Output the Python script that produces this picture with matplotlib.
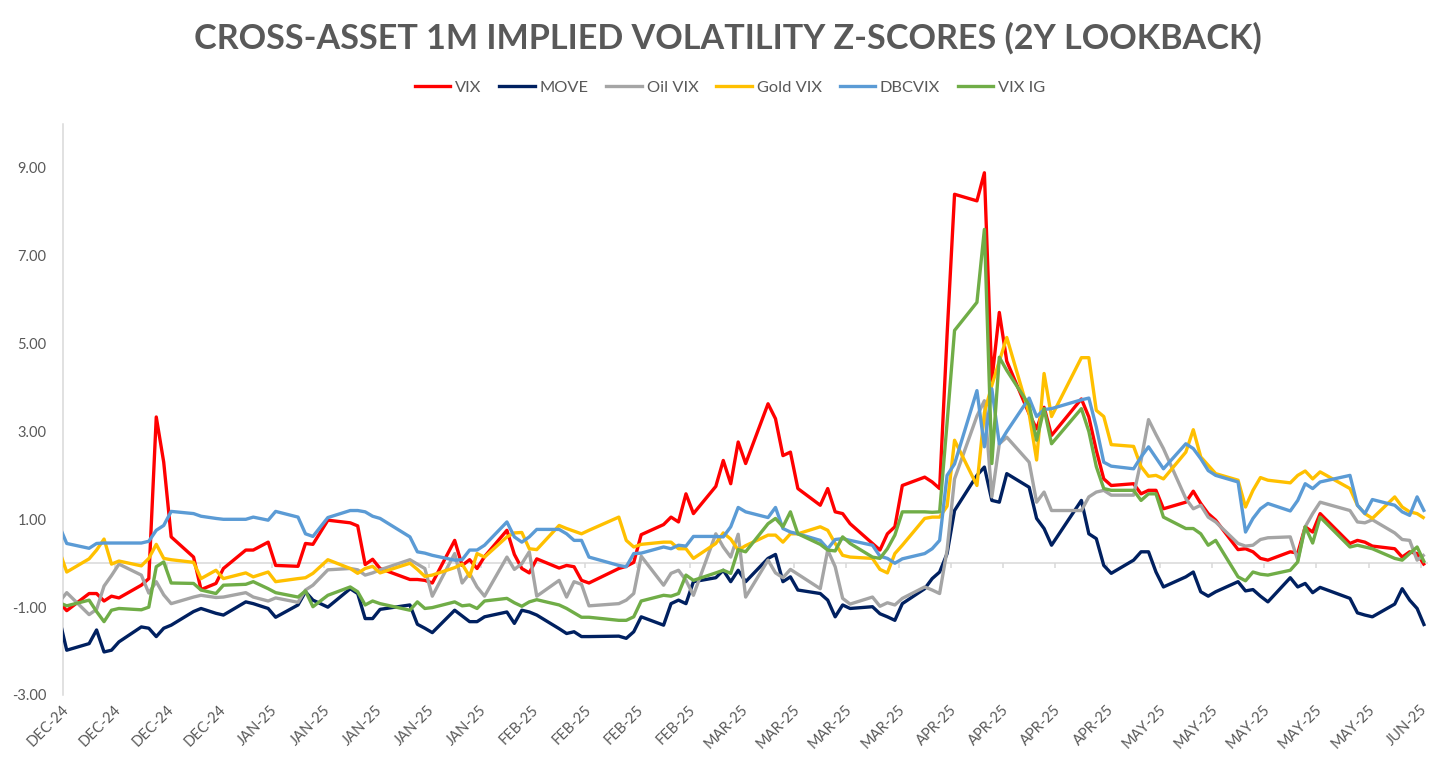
import numpy as np
import pandas as pd
import matplotlib
matplotlib.use("Agg")
import matplotlib.pyplot as plt
from matplotlib.lines import Line2D

# ---------------- data ----------------
holidays = ["2024-12-25", "2025-01-01", "2025-01-09", "2025-01-20",
            "2025-02-17", "2025-04-18", "2025-05-26"]
dates = pd.bdate_range("2024-12-05", "2025-06-06", freq="C", holidays=holidays)

vix = [-0.89,
       -1.08, -0.69, -0.69, -0.86, -0.75, -0.79, -0.50, -0.35, 3.33, 2.30,
       0.60, 0.14, -0.60, -0.46, -0.12, 0.30, 0.30, 0.48, -0.05, -0.07,
       0.45, 0.43, 0.98, 0.92, 0.85, -0.03, 0.09, -0.12, -0.37, -0.37,
       -0.39, -0.45, 0.52, -0.05, 0.08, -0.12, 0.15, 0.75, 0.20, -0.12,
       -0.22, 0.10, -0.11, -0.05, -0.08, -0.39, -0.45, -0.12, -0.07, 0.02,
       0.65, 0.88, 1.05, 0.94, 1.58, 1.13, 1.75, 2.34, 1.81, 2.76,
       2.27, 3.63, 3.29, 2.45, 2.53, 1.70, 1.32, 1.70, 1.17, 1.13,
       0.90, 0.45, 0.30, 0.67, 0.83, 1.77, 1.96, 1.85, 1.70, 5.20,
       8.40, 8.25, 8.89, 4.16, 5.71, 4.60, 3.40, 3.06, 3.55, 2.91,
       3.74, 3.33, 2.57, 1.92, 1.77, 1.81, 1.58, 1.66, 1.66, 1.24,
       1.39, 1.64, 1.36, 1.13, 0.98, 0.31, 0.33, 0.26, 0.11, 0.07,
       0.26, 0.23, 0.83, 0.71, 1.13, 0.45, 0.52, 0.48, 0.39, 0.33,
       0.14, 0.26, 0.22, -0.05]

move = [-1.26,
        -1.98, -1.83, -1.52, -2.02, -1.98, -1.79, -1.45, -1.48, -1.67, -1.48,
        -1.41, -1.10, -1.03, -1.14, -1.18, -0.88, -0.92, -1.03, -1.23, -0.95,
        -0.65, -0.84, -1.00, -0.58, -0.69, -1.26, -1.26, -1.05, -0.95, -1.39,
        -1.48, -1.58, -1.07, -1.20, -1.33, -1.33, -1.22, -1.11, -1.37, -1.07,
        -1.11, -1.18, -1.49, -1.60, -1.56, -1.67, -1.67, -1.66, -1.71, -1.56,
        -1.22, -1.41, -0.92, -0.84, -0.92, -0.42, -0.33, -0.16, -0.42, -0.16,
        -0.42, 0.11, 0.20, -0.42, -0.31, -0.61, -0.69, -0.84, -1.22, -0.95,
        -1.03, -0.99, -1.15, -1.22, -1.30, -0.92, -0.58, -0.35, -0.20, 0.22,
        1.20, 2.00, 2.19, 1.43, 1.39, 2.04, 1.73, 1.02, 0.79, 0.41,
        1.43, 0.67, 0.56, -0.05, -0.23, 0.07, 0.26, 0.26, -0.20, -0.54,
        -0.31, -0.20, -0.65, -0.75, -0.65, -0.42, -0.63, -0.60, -0.75, -0.88,
        -0.33, -0.54, -0.46, -0.67, -0.55, -0.80, -1.13, -1.18, -1.22, -0.93,
        -0.58, -0.84, -1.03, -1.43]

oil_vix = [-0.88,
           -0.67, -1.17, -1.05, -0.52, -0.28, -0.02, -0.27, -0.68, -0.42, -0.72,
           -0.92, -0.77, -0.73, -0.78, -0.77, -0.67, -0.77, -0.86, -0.79, -0.89,
           -0.61, -0.50, -0.15, -0.12, -0.15, -0.27, -0.22, -0.15, 0.08, -0.02,
           -0.12, -0.75, 0.22, -0.45, -0.23, -0.54, -0.75, 0.14, -0.14, -0.01,
           0.26, -0.75, -0.39, -0.77, -0.42, -0.48, -0.97, -0.92, -0.84, -0.69,
           0.16, -0.50, -0.23, -0.16, -0.39, -0.73, 0.67, 0.37, 0.14, 0.66,
           -0.77, 0.07, -0.22, -0.33, -0.14, -0.25, -0.58, 0.30, -0.08, -0.80,
           -0.93, -0.77, -0.98, -0.90, -0.95, -0.80, -0.54, -0.61, -0.69, 0.30,
           1.92, 3.35, 3.70, 1.51, 2.72, 2.87, 2.30, 1.39, 1.62, 1.20,
           1.20, 1.51, 1.62, 1.66, 1.55, 1.55, 2.34, 3.27, 2.93, 2.61,
           1.47, 1.24, 1.32, 1.05, 0.94, 0.45, 0.39, 0.41, 0.54, 0.58,
           0.60, 0.07, 0.83, 1.13, 1.39, 1.20, 0.94, 0.92, 0.99, 0.69,
           0.54, 0.52, 0.07, 0.20]

gold_vix = [0.29,
            -0.20, 0.10, 0.30, 0.55, -0.02, 0.05, -0.06, 0.11, 0.43, 0.11,
            0.08, 0.02, -0.35, -0.16, -0.35, -0.22, -0.31, -0.20, -0.42, -0.35,
            -0.33, -0.23, 0.08, -0.12, -0.23, -0.12, -0.07, -0.22, 0.00, -0.14,
            -0.30, -0.27, -0.10, -0.02, -0.30, 0.22, 0.14, 0.60, 0.69, 0.70,
            0.33, 0.31, 0.86, 0.79, 0.73, 0.67, 0.75, 1.05, 0.52, 0.37,
            0.43, 0.48, 0.48, 0.33, 0.33, 0.11, 0.45, 0.69, 0.55, 0.30,
            0.40, 0.64, 0.64, 0.48, 0.67, 0.67, 0.83, 0.75, 0.45, 0.18,
            0.14, 0.11, -0.14, -0.22, 0.22, 0.41, 1.02, 1.05, 1.05, 1.30,
            2.80, 1.77, 3.43, 4.05, 4.60, 5.14, 3.40, 2.35, 4.32, 3.34,
            4.68, 4.68, 3.48, 3.34, 2.70, 2.66, 2.20, 1.98, 2.00, 1.92,
            2.53, 3.04, 2.42, 2.23, 2.04, 1.89, 1.28, 1.66, 1.95, 1.89,
            1.83, 2.00, 2.10, 1.92, 2.08, 1.70, 1.32, 1.13, 1.02, 1.51,
            1.28, 1.17, 1.13, 1.02]

dbcvix = [0.85,
          0.45, 0.34, 0.45, 0.46, 0.46, 0.46, 0.46, 0.50, 0.75, 0.86,
          1.18, 1.13, 1.07, 1.02, 1.00, 1.00, 1.05, 0.98, 1.18, 1.05,
          0.67, 0.61, 1.04, 1.20, 1.20, 1.17, 1.07, 1.02, 0.60, 0.26,
          0.23, 0.18, 0.07, 0.08, 0.30, 0.30, 0.41, 0.94, 0.60, 0.48,
          0.60, 0.77, 0.77, 0.67, 0.52, 0.52, 0.14, -0.05, -0.08, 0.22,
          0.23, 0.37, 0.33, 0.41, 0.39, 0.61, 0.61, 0.60, 0.83, 1.27,
          1.17, 1.04, 1.27, 0.79, 0.71, 0.67, 0.52, 0.33, 0.54, 0.56,
          0.52, 0.41, 0.16, 0.11, 0.00, 0.10, 0.22, 0.33, 0.52, 2.00,
          2.26, 3.93, 2.65, 3.97, 2.72, 3.00, 3.76, 3.34, 3.50, 3.52,
          3.72, 3.76, 3.10, 2.30, 2.21, 2.15, 2.42, 2.65, 2.40, 2.15,
          2.72, 2.61, 2.38, 2.11, 2.00, 1.85, 0.71, 1.02, 1.24, 1.36,
          1.19, 1.43, 1.81, 1.70, 1.85, 2.00, 1.32, 1.13, 1.45, 1.32,
          1.17, 1.09, 1.51, 1.17]

vix_ig = [-0.90,
          -0.97, -0.84, -1.10, -1.33, -1.07, -1.03, -1.06, -1.00, -0.08, 0.03,
          -0.45, -0.46, -0.61, -0.69, -0.50, -0.48, -0.42, -0.58, -0.67, -0.77,
          -0.63, -0.99, -0.73, -0.54, -0.65, -0.95, -0.86, -0.92, -1.07, -0.88,
          -1.03, -1.01, -0.88, -0.97, -0.95, -1.03, -0.86, -0.80, -0.90, -0.98,
          -0.88, -0.83, -0.95, -1.03, -1.13, -1.23, -1.23, -1.30, -1.30, -1.22,
          -0.86, -0.73, -0.75, -0.69, -0.27, -0.39, -0.22, -0.16, -0.23, 0.31,
          0.26, 0.90, 1.02, 0.83, 1.17, 0.67, 0.43, 0.30, 0.28, 0.60,
          0.45, 0.14, 0.11, 0.33, 0.64, 1.17, 1.17, 1.16, 1.17, 3.20,
          5.30, 5.94, 7.60, 2.27, 4.69, 4.39, 3.60, 2.80, 3.52, 2.72,
          3.52, 3.00, 2.20, 1.70, 1.66, 1.66, 1.43, 1.58, 1.58, 1.05,
          0.79, 0.79, 0.67, 0.41, 0.52, -0.31, -0.40, -0.20, -0.25, -0.27,
          -0.16, 0.03, 0.83, 0.46, 1.05, 0.37, 0.41, 0.37, 0.33, 0.11,
          0.07, 0.22, 0.37, 0.01]

series_names = ["VIX", "MOVE", "Oil VIX", "Gold VIX", "DBCVIX", "VIX IG"]
series_colors = ["#FF0000", "#002060", "#A5A5A5", "#FFC000", "#5B9BD5", "#70AD47"]

tick_dates = pd.date_range("2024-12-06", periods=27, freq="7D")
tick_labels = (["DEC-24"] * 4 + ["JAN-25"] * 5 + ["FEB-25"] * 4 + ["MAR-25"] * 4
               + ["APR-25"] * 4 + ["MAY-25"] * 5 + ["JUN-25"])
y_ticks = [-3, -1, 1, 3, 5, 7, 9]
y_labels = ["-3.00", "-1.00", "1.00", "3.00", "5.00", "7.00", "9.00"]

title = "CROSS-ASSET 1M IMPLIED VOLATILITY Z-SCORES (2Y LOOKBACK)"

# ---------------- plot ----------------
plt.rcParams["font.family"] = ["Lato", "DejaVu Sans"]
TXT = "#595959"
AX = "#D9D9D9"

W, H = 1456, 772
fig = plt.figure(figsize=(W / 100, H / 100), dpi=100)
ax = fig.add_axes([63 / W, 1 - 695 / H, (1428.3 - 63) / W, (695 - 124) / H])

all_series = [vix, move, oil_vix, gold_vix, dbcvix, vix_ig]
handles = []
for vals, name, col in zip(all_series, series_names, series_colors):
    assert len(vals) == len(dates), (name, len(vals), len(dates))
    ax.plot(dates, vals, color=col, lw=2.4, solid_joinstyle="round",
            solid_capstyle="butt", label=name, zorder=3)
    handles.append(Line2D([], [], color=col, lw=2.4))

ax.set_xlim(pd.Timestamp("2024-12-05 12:00"), pd.Timestamp("2025-06-06 12:00"))
ax.set_ylim(-3, 10)

# zero line and weekly tick marks on it
ax.axhline(0, color=AX, lw=1.1, zorder=1)
mark_pos = tick_dates - pd.Timedelta(hours=12)
ax.vlines(mark_pos, -0.11, 0, color=AX, lw=1.1, zorder=1)

for s in ["top", "right", "bottom"]:
    ax.spines[s].set_visible(False)
ax.spines["left"].set_color(AX)
ax.spines["left"].set_linewidth(1.1)

ax.set_yticks(y_ticks)
ax.set_yticklabels(y_labels)
ax.tick_params(axis="y", length=0, pad=12, labelsize=10.5, labelcolor=TXT)

ax.set_xticks(tick_dates)
ax.set_xticklabels(tick_labels, rotation=45, ha="right", va="center",
                   rotation_mode="anchor")
ax.tick_params(axis="x", length=0, pad=9, labelsize=10.5, labelcolor=TXT)

fig.text(0.5, 1 - 38 / H, title, ha="center", va="center", fontsize=24.6,
         fontweight="bold", color=TXT)

fig.legend(handles, series_names, loc="center", bbox_to_anchor=(730 / W, 1 - 88 / H),
           ncol=6, frameon=False, fontsize=11.8, labelcolor=TXT,
           handlelength=2.15, handletextpad=0.3, columnspacing=1.1)

fig.savefig("out.png", dpi=100)
